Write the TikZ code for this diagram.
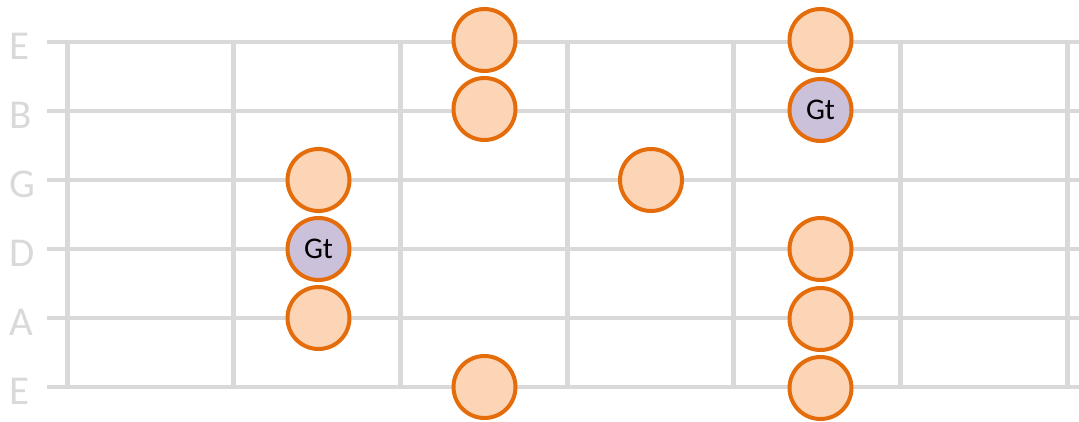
\documentclass[tikz,border=0pt]{standalone}
\usepackage{fontspec}
\setmainfont{Carlito}
\usetikzlibrary{positioning}

\definecolor{fretgray}{HTML}{D9D9D9}
\definecolor{noteedge}{HTML}{E46C0A}
\definecolor{notefill}{HTML}{FBD5B5}
\definecolor{rootfill}{HTML}{CCC1DA}

\begin{document}
\begin{tikzpicture}[x=1pt, y=-1pt,
    stringline/.style={line width=4pt, draw=fretgray},
    fretline/.style={line width=5pt, draw=fretgray},
    stringname/.style={anchor=base west, inner sep=0pt, text=fretgray, font=\fontsize{41}{41}\selectfont},
    note/.style={circle, draw=noteedge, fill=notefill, line width=4pt, minimum size=62pt, inner sep=0pt, font=\fontsize{30}{30}\selectfont},
    root/.style={note, fill=rootfill}]
        \useasboundingbox (0,0) rectangle (1079,421);
        % strings
        \foreach \name [count=\i from 0] in {E,B,G,D,A,E} {
            \coordinate (s\i w) at (47,42+69*\i);
            \coordinate (s\i e) at (1079,42+69*\i);
            \draw[stringline] (s\i w) -- (s\i e);
            \node[stringname] (name\i) at (9,59+69*\i) {\name};
        }
        % frets
        \foreach \j in {0,...,6} {
            \coordinate (f\j t) at (67+166.67*\j,42);
            \coordinate (f\j b) at (67+166.67*\j,387);
            \draw[fretline] (f\j t) -- (f\j b);
        }
        % first box
        \node[note] (c1g) at (318.5,180) {};
        \node[root] (c1d) at (318.5,249) {Gt};
        \node[note] (c1a) at (318.5,318) {};
        % second box
        \node[note] (c2e) at (484.5,40) {};
        \node[note] (c2b) at (484.5,109) {};
        \node[note] (c2lowe) at (484.5,387) {};
        % third box
        \node[note] (c3g) at (651,180) {};
        % fourth box
        \node[note] (c4e) at (820.5,40) {};
        \node[root] (c4b) at (820.5,110) {Gt};
        \node[note] (c4d) at (820.5,249) {};
        \node[note] (c4a) at (820.5,319) {};
        \node[note] (c4lowe) at (820.5,388) {};
    \end{tikzpicture}
\end{document}
